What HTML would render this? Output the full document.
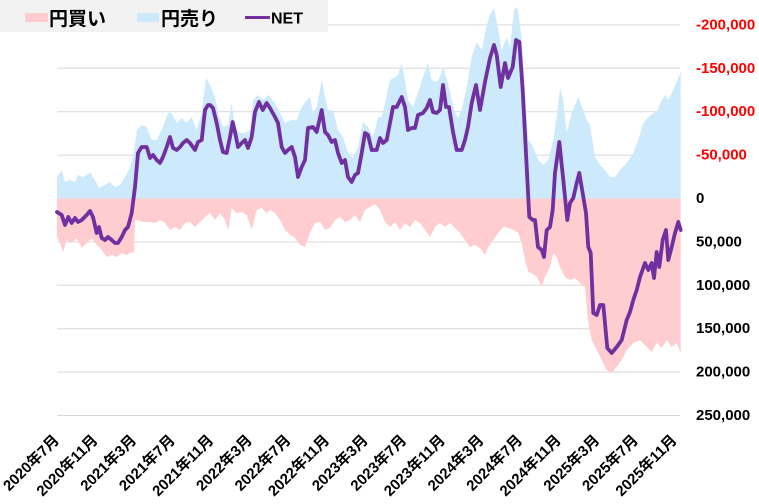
<!DOCTYPE html>
<html><head><meta charset="utf-8"><style>
html,body{margin:0;padding:0;background:#fff;}
svg{display:block;}
text{font-family:"Liberation Sans","Noto Sans CJK JP",sans-serif;font-weight:bold;}
</style></head><body>
<svg width="759" height="504" viewBox="0 0 759 504" xmlns="http://www.w3.org/2000/svg">
<g stroke="#d9d9d9" stroke-width="1">
<line x1="57" x2="680" y1="24.9" y2="24.9"/>
<line x1="57" x2="680" y1="68.3" y2="68.3"/>
<line x1="57" x2="680" y1="111.7" y2="111.7"/>
<line x1="57" x2="680" y1="155.1" y2="155.1"/>
<line x1="57" x2="680" y1="198.5" y2="198.5"/>
<line x1="57" x2="680" y1="241.9" y2="241.9"/>
<line x1="57" x2="680" y1="285.3" y2="285.3"/>
<line x1="57" x2="680" y1="328.7" y2="328.7"/>
<line x1="57" x2="680" y1="372.1" y2="372.1"/>
<line x1="57" x2="680" y1="415.5" y2="415.5"/>
</g>
<polygon fill="#cdeafc" points="57,198.5 57,177 61.7,170 65,182 70,180 75,182 78,175 83,177 86.7,175 90,172 95,180 99,188 105,185 110,182 115,187 120,185 125,177 130,168 133,157 137,130 141.7,125 146.7,127 151.7,140 156.7,140 163,127 168,113 171.7,113 176.7,123 181.7,118 186.7,123 191.7,117 196.7,130 201.7,113 206,78 210,85 215,97 218,113 223,127 228,125 231.7,103 235,127 240,133 245,133 250,130 253,100 258,95 263,100 268,95 275,103 280,113 285,123 291.7,120 296.7,120 301.7,107 306.7,100 310,97 313,113 316.7,107 321.7,80 325,97 328,110 333,110 338,130 343,137 348,153 353,158 358,147 363,122 368,127 373,137 375,130 378,117 381.7,117 385,103 390,80 395,77 398,75 401.7,63 405,80 408,100 413,107 418,93 423,77 428,63 431.7,80 436.7,82 440,77 443,67 448,83 451.7,100 455,113 458,118 461.7,110 466.7,87 471.7,57 476.7,42 481.7,50 486.7,25 490.7,13 494,8 498.3,30 501.7,50 506.7,37 510,47 514,10 517.3,7 521.7,37 525,93 528.3,140 533.3,147 538.3,160 543.3,165 548.3,160 553.3,140 556.7,117 560,88 563.3,100 566.7,133 571.7,113 578.3,97 583.3,110 586.7,120 590,125 595,157 600,165 605,170 610,177 615,177 620,170 626.7,163 633.3,153 638.3,140 643.3,123 648.3,117 653.3,113 656.7,112 661.7,100 665,95 668.3,100 673.3,90 676.7,82 680.7,72 680.7,198.5"/>
<polygon fill="#ffcdd0" points="57,198.5 57,237 60,243 63,252 66.7,240 71.7,243 76.7,238 81.7,248 86.7,243 91.7,238 96.7,245 101.7,250 106.7,257 111.7,255 116.7,257 121.7,253 126.7,255 131.7,252 134,253 135,220 138,220 143,222 150,222 155,223 160,220 165,223 170,230 175,227 180,230 185,223 190,222 195,227 200,222 205,217 210,213 215,220 220,213 225,220 228.3,230 231.7,208 236.7,213 241.7,212 246.7,215 251.7,230 256.7,210 261.7,208 266.7,213 270,210 275,213 280,220 285,230 290,235 295,238 300,245 305,247 310,233 315,223 320,222 325,230 330,228 335,220 340,217 345,222 350,220 355,215 360,222 365,210 370,207 375,204 380,210 385,222 390,227 395,222 400,230 405,223 410,227 415,220 420,223 425,230 430,237 435,227 440,223 445,227 450,223 455,228 460,233 465,240 470,247 475,245 480,248 485,255 488.3,247 493.3,240 498.3,233 503.3,227 508.3,228 513.3,230 518.3,233 521.7,243 525,260 528.3,272 531.7,273 536.7,277 541.7,287 545,277 550,267 553.3,253 556.7,257 560,267 565,277 570,280 575,278 580,283 585,287 588.3,323 591.7,340 596.7,350 601.7,360 606.7,370 611.7,373 616.7,367 621.7,360 626.7,350 633.3,343 640,340 646.7,347 651.7,352 656.7,343 661.7,348 666.7,340 671.7,347 676.7,343 680.7,353 680.7,198.5"/>
<polyline fill="none" stroke="#7030a0" stroke-width="3.8" stroke-linejoin="round" stroke-linecap="round" points="57,212 61.7,215 65,225 68.3,217 71.7,223 75,218 78,222 81.7,220 86.7,215 90,211 93,217 96.7,233 99,227 101.7,238 105,240 108,237 111.7,240 115,243 118,243 121.7,237 125,230 128,227 131.7,213 135,187 138,153 141.7,147 146.7,147 150,158 153,155 156.7,160 160,163 163,157 166.7,147 170,137 173,148 176.7,150 180,147 183,143 186.7,140 190,143 195,150 198,142 201.7,140 205,110 208,105 210,105 213,108 216.7,123 220,140 223,152 226.7,153 230,137 232.7,122 235,132 238,147 241.7,143 245,140 248,148 251.7,137 255,112 259,102 262.7,110 266.7,103 270,108 275,117 278,123 281.7,147 285,153 288,150 291.7,147 295,157 298,177 301.7,167 305,160 308,128 313,127 316.7,132 321.7,110 325,132 328,135 331.7,142 335,140 338,153 341.7,163 345,160 348,177 351.7,182 355,175 358,173 361.7,153 365,133 368,135 371.7,150 376.7,150 380,138 383,143 386.7,140 390,123 393,107 396.7,107 401.7,97 405,107 408,130 411.7,128 415,128 418,115 423,113 426.7,108 430,100 433,112 436.7,113 440,110 443,85 446,107 449,107 453,132 456.7,150 461.7,150 465,140 468,127 471.7,103 476,85 480,110 485,82 490,58 494,45 496.7,55 500.7,87 505,63 508,78 512.7,67 516,40 519.3,42 522.7,90 526.7,167 529.3,217 533,220 535,220 538,247 541.7,250 544,257 546.7,230 550,227 552.7,210 555,173 559.3,142 563.3,180 567.3,220 570,203 573.3,198 576.7,183 579.3,173 583.3,197 586,213 588.3,247 590.7,253 593.3,313 596.7,315 600,305 603.3,305 607.3,348 611.7,353 616.7,347 621.7,340 626.7,320 630,312 633.3,300 636.7,290 640,277 645,263 648.3,270 651.7,263 654,278 656.7,252 659.3,267 662.7,240 666,230 668.3,260 671.7,247 675,233 678.3,222 680.7,230"/>
<g font-size="15" dominant-baseline="central">
<text x="696" y="24.9" fill="#ff0000">-200,000</text>
<text x="696" y="68.3" fill="#ff0000">-150,000</text>
<text x="696" y="111.7" fill="#ff0000">-100,000</text>
<text x="696" y="155.1" fill="#ff0000">-50,000</text>
<text x="696" y="198.5" fill="#000">0</text>
<text x="696" y="241.9" fill="#000">50,000</text>
<text x="696" y="285.3" fill="#000">100,000</text>
<text x="696" y="328.7" fill="#000">150,000</text>
<text x="696" y="372.1" fill="#000">200,000</text>
<text x="696" y="415.5" fill="#000">250,000</text>
</g>
<g font-size="15" fill="#000" text-anchor="end">
<text transform="translate(60,441) rotate(-45)">2020年7月</text>
<text transform="translate(98.6,441) rotate(-45)">2020年11月</text>
<text transform="translate(137.2,441) rotate(-45)">2021年3月</text>
<text transform="translate(175.8,441) rotate(-45)">2021年7月</text>
<text transform="translate(214.4,441) rotate(-45)">2021年11月</text>
<text transform="translate(253,441) rotate(-45)">2022年3月</text>
<text transform="translate(291.6,441) rotate(-45)">2022年7月</text>
<text transform="translate(330.2,441) rotate(-45)">2022年11月</text>
<text transform="translate(368.8,441) rotate(-45)">2023年3月</text>
<text transform="translate(407.4,441) rotate(-45)">2023年7月</text>
<text transform="translate(446,441) rotate(-45)">2023年11月</text>
<text transform="translate(484.6,441) rotate(-45)">2024年3月</text>
<text transform="translate(523.2,441) rotate(-45)">2024年7月</text>
<text transform="translate(561.8,441) rotate(-45)">2024年11月</text>
<text transform="translate(600.4,441) rotate(-45)">2025年3月</text>
<text transform="translate(639,441) rotate(-45)">2025年7月</text>
<text transform="translate(677.6,441) rotate(-45)">2025年11月</text>
</g>
<rect x="0" y="0" width="328" height="32" fill="#f2f2f2"/>
<rect x="25" y="13" width="23" height="9" fill="#ffcdd0"/>
<text x="49" y="25" font-size="19" fill="#000">円買い</text>
<rect x="137" y="13" width="22" height="9" fill="#cdeafc"/>
<text x="161" y="25" font-size="19" fill="#000">円売り</text>
<line x1="245" x2="270" y1="17.5" y2="17.5" stroke="#7030a0" stroke-width="3"/>
<text x="271" y="23.5" font-size="16" fill="#000">NET</text>
</svg>
</body></html>
